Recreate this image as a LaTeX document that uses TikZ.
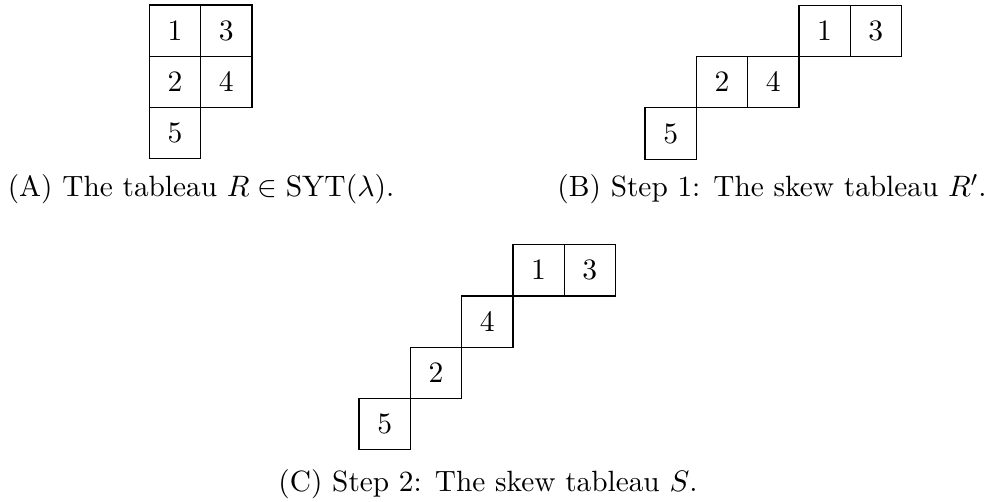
\documentclass[tikz,border=0pt]{standalone}
\usepackage{amsmath}
\begin{document}
\begin{tikzpicture}[x=0.37pt,y=-0.37pt,
  cell/.style={draw, line width=0.45pt, minimum size=18.98pt, inner sep=0pt, font=\fontsize{11.3}{14}\selectfont},
  capt/.style={anchor=base, inner sep=0pt, font=\fontsize{10.85}{13}\selectfont}]
\useasboundingbox (0,0) rectangle (991,502);
\def\s{51.3}
% Tableau A
\node[cell] (a1) at (149.3+0.5*\s, 5+0.5*\s) {$1$};
\node[cell] (a3) at (149.3+1.5*\s, 5+0.5*\s) {$3$};
\node[cell] (a2) at (149.3+0.5*\s, 5+1.5*\s) {$2$};
\node[cell] (a4) at (149.3+1.5*\s, 5+1.5*\s) {$4$};
\node[cell] (a5) at (149.3+0.5*\s, 5+2.5*\s) {$5$};
% Tableau B
\node[cell] (b1) at (645+3.5*\s, 5.3+0.5*\s) {$1$};
\node[cell] (b3) at (645+4.5*\s, 5.3+0.5*\s) {$3$};
\node[cell] (b2) at (645+1.5*\s, 5.3+1.5*\s) {$2$};
\node[cell] (b4) at (645+2.5*\s, 5.3+1.5*\s) {$4$};
\node[cell] (b5) at (645+0.5*\s, 5.3+2.5*\s) {$5$};
% Tableau C
\node[cell] (c1) at (359+3.5*\s, 244.7+0.5*\s) {$1$};
\node[cell] (c3) at (359+4.5*\s, 244.7+0.5*\s) {$3$};
\node[cell] (c4) at (359+2.5*\s, 244.7+1.5*\s) {$4$};
\node[cell] (c2) at (359+1.5*\s, 244.7+2.5*\s) {$2$};
\node[cell] (c5) at (359+0.5*\s, 244.7+3.5*\s) {$5$};
% Captions
\node[capt] (capA) at (201,197) {(A) The tableau $R \in \mathrm{SYT}(\lambda)$.};
\node[capt] (capB) at (772,197) {(B) Step 1: The skew tableau $R'$.};
\node[capt] (capC) at (488,491.5) {(C) Step 2: The skew tableau $S$.};
\end{tikzpicture}
\end{document}
